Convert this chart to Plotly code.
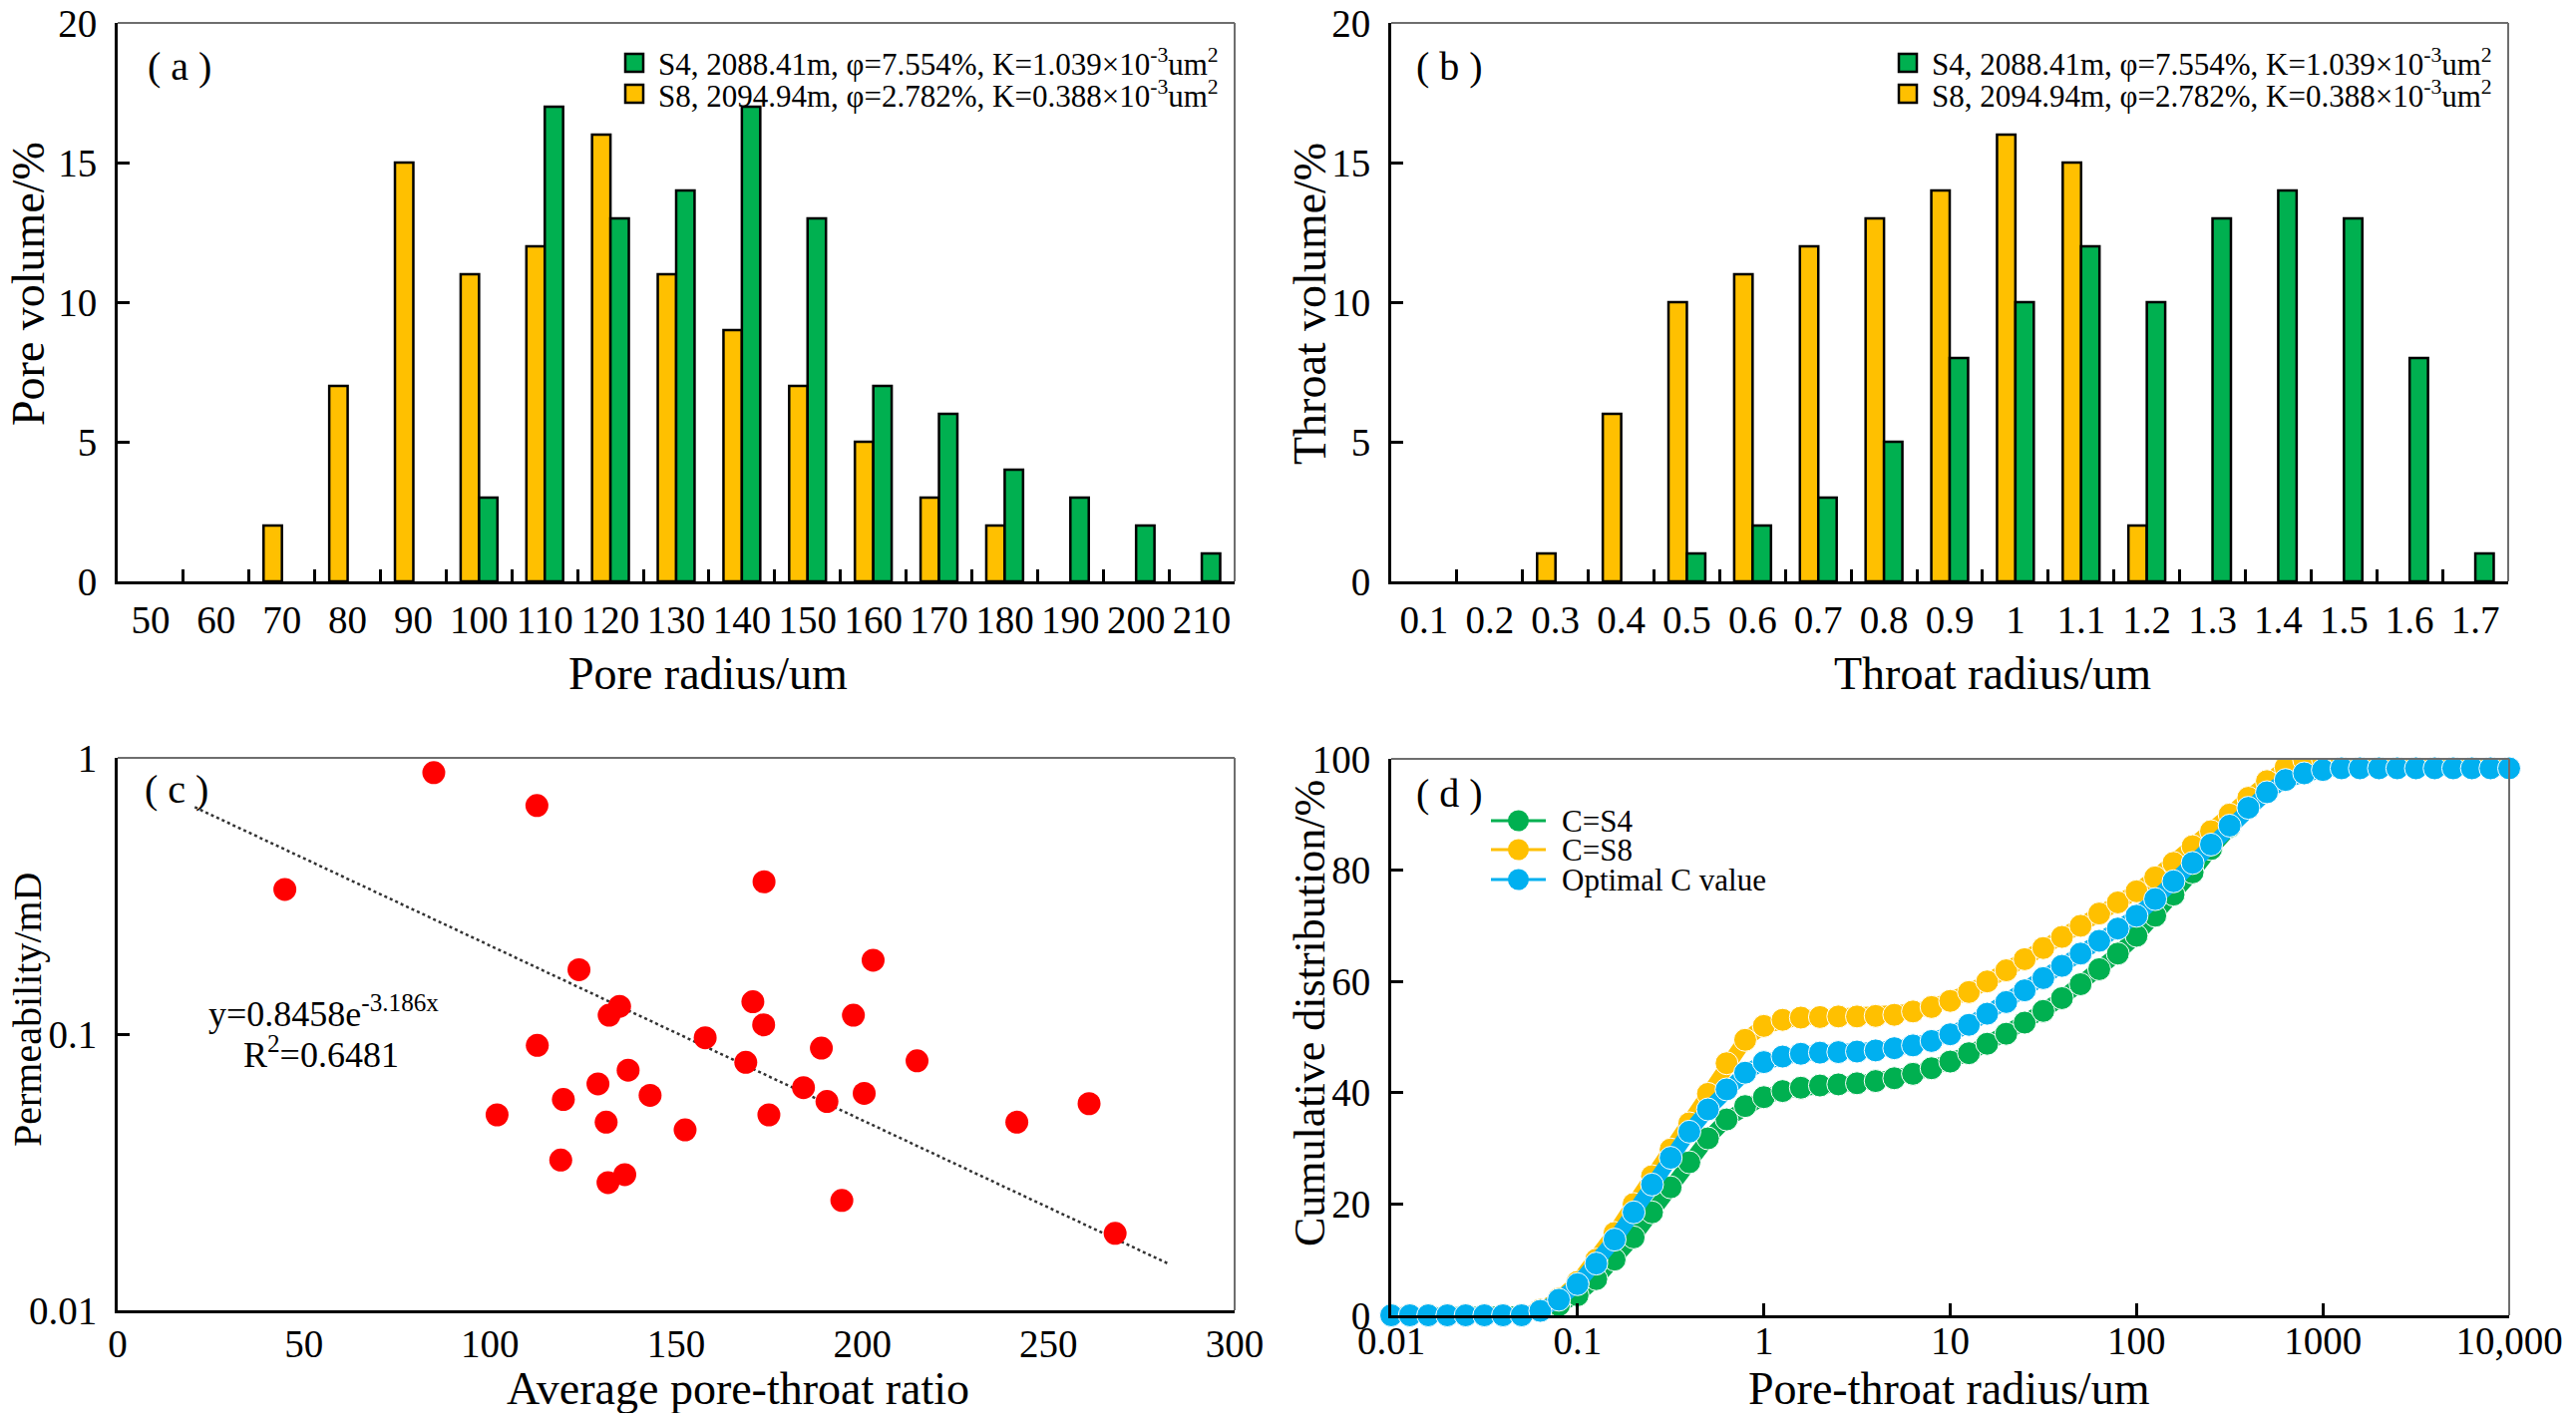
import plotly.graph_objects as go

# ---------------- data ----------------
pore_radius = ["50", "60", "70", "80", "90", "100", "110", "120", "130", "140",
               "150", "160", "170", "180", "190", "200", "210"]
pore_s4 = [0, 0, 0, 0, 0, 3, 17, 13, 14, 17, 13, 7, 6, 4, 3, 2, 1]
pore_s8 = [0, 0, 2, 7, 15, 11, 12, 16, 11, 9, 7, 5, 3, 2, 0, 0, 0]

throat_radius = ["0.1", "0.2", "0.3", "0.4", "0.5", "0.6", "0.7", "0.8", "0.9", "1",
                 "1.1", "1.2", "1.3", "1.4", "1.5", "1.6", "1.7"]
throat_s4 = [0, 0, 0, 0, 1, 2, 3, 5, 8, 10, 12, 10, 13, 14, 13, 8, 1]
throat_s8 = [0, 0, 1, 6, 10, 11, 12, 13, 14, 16, 15, 2, 0, 0, 0, 0, 0]

ratio = [44.9, 84.9, 112.6, 173.6, 202.9, 123.9, 134.8, 132.0, 170.6, 173.5, 197.6,
         112.7, 157.8, 189.0, 168.7, 214.7, 137.1, 129.0, 184.2, 200.5, 143.0, 119.7,
         190.5, 101.9, 174.9, 131.2, 152.4, 119.0, 136.2, 131.7, 194.5, 260.9, 241.5, 267.9]
perm = [0.334, 0.884, 0.672, 0.356, 0.185, 0.171, 0.126, 0.117, 0.131, 0.108, 0.117,
        0.091, 0.097, 0.089, 0.079, 0.080, 0.074, 0.066, 0.064, 0.061, 0.060, 0.058,
        0.057, 0.051, 0.051, 0.048, 0.045, 0.035, 0.031, 0.029, 0.025, 0.056, 0.048, 0.019]
trend_x = [20.7, 282.4]
trend_y = [0.663, 0.0147]

pt_radius = [0.01, 0.0126, 0.0158, 0.02, 0.0251, 0.0316, 0.0398, 0.0501, 0.0631, 0.0794,
             0.1, 0.126, 0.158, 0.2, 0.251, 0.316, 0.398, 0.501, 0.631, 0.794,
             1, 1.26, 1.58, 2, 2.51, 3.16, 3.98, 5.01, 6.31, 7.94,
             10, 12.6, 15.8, 20, 25.1, 31.6, 39.8, 50.1, 63.1, 79.4,
             100, 126, 158, 200, 251, 316, 398, 501, 631, 794,
             1000, 1260, 1580, 2000, 2510, 3160, 3980, 5010, 6310, 7940, 10000]
cum_s8 = [0, 0, 0, 0, 0, 0, 0, 0,
          1, 3, 6, 10, 14.8, 20, 25, 29.8, 34.5, 39.8, 45.3, 49.5, 52,
          53.1, 53.5, 53.6, 53.7, 53.7, 53.8, 54.0, 54.6, 55.4, 56.5,
          58.1, 60, 62, 64, 66, 68, 70, 72.2, 74.2, 76.2,
          78.7, 81.3, 84.3, 87, 90, 93, 96, 98.5, 99.8, 100,
          100, 100, 100, 100, 100, 100, 100, 100, 100, 100]
cum_opt = [0, 0, 0, 0, 0, 0, 0, 0,
           0.8, 2.8, 5.6, 9.3, 13.6, 18.5, 23.5, 28.3, 33, 37, 40.6, 43.6, 45.5,
           46.5, 47, 47.2, 47.3, 47.4, 47.6, 48, 48.5, 49.3, 50.5,
           52.2, 54.2, 56.3, 58.4, 60.6, 62.8, 65, 67.3, 69.5, 71.8,
           74.8, 78, 81.3, 84.6, 88, 91.2, 94, 96.2, 97.4, 98,
           98.3, 98.3, 98.3, 98.3, 98.3, 98.3, 98.3, 98.3, 98.3, 98.3]
cum_s4 = [0, 0, 0, 0, 0, 0, 0, 0,
          0.3, 1.8, 3.6, 6.5, 10, 14, 18.5, 23, 27.5, 31.8, 35.2, 37.6, 39.2,
          40.3, 40.9, 41.3, 41.5, 41.7, 42.1, 42.6, 43.4, 44.4, 45.6,
          47.1, 48.8, 50.6, 52.6, 54.7, 57, 59.5, 62.2, 65, 68.2,
          71.8, 75.6, 79.6, 83.8, 87.8, 91.5, 94.8, 97.3, 99, 99.8,
          100, 100, 100, 100, 100, 100, 100, 100, 100, 100]

s4_label = "S4, 2088.41m, φ=7.554%, K=1.039×10<sup>-3</sup>um<sup>2</sup>"
s8_label = "S8, 2094.94m, φ=2.782%, K=0.388×10<sup>-3</sup>um<sup>2</sup>"
curve_labels = ["C=S4", "C=S8", "Optimal C value"]

# ---------------- styling / layout helpers ----------------
GREEN = "#00B050"
YELLOW = "#FFC000"
BLUE = "#00B0F0"
RED = "#FF0000"
FONT = "Liberation Serif"

W, H = 2567, 1409
OFF = 8


def fx(x):
    return (x - OFF) / W


def fy(y):
    return 1 - (y - OFF) / H


# panel boxes in page pixels: (left, right, top, bottom)
A = (118, 1238, 23, 583)
B = (1395, 2515, 23, 583)
C = (118, 1238, 760, 1314)
D = (1395, 2516, 761, 1319)


def dom(box):
    return [fx(box[0]), fx(box[1])], [fy(box[3]), fy(box[2])]


def nz(v):
    return [a if a > 0 else None for a in v]


TICKF = dict(family=FONT, size=39, color="black")

fig = go.Figure()

# (a)
fig.add_trace(go.Bar(x=pore_radius, y=nz(pore_s8), name="S8", marker=dict(color=YELLOW, line=dict(color="black", width=2.5)),
                     xaxis="x", yaxis="y", showlegend=False))
fig.add_trace(go.Bar(x=pore_radius, y=nz(pore_s4), name="S4", marker=dict(color=GREEN, line=dict(color="black", width=2.5)),
                     xaxis="x", yaxis="y", showlegend=False))
# (b)
fig.add_trace(go.Bar(x=throat_radius, y=nz(throat_s8), name="S8", marker=dict(color=YELLOW, line=dict(color="black", width=2.5)),
                     xaxis="x2", yaxis="y2", showlegend=False))
fig.add_trace(go.Bar(x=throat_radius, y=nz(throat_s4), name="S4", marker=dict(color=GREEN, line=dict(color="black", width=2.5)),
                     xaxis="x2", yaxis="y2", showlegend=False))
# (c)
fig.add_trace(go.Scatter(x=trend_x, y=trend_y, mode="lines", line=dict(color="#333333", width=2.5, dash="dot"),
                         xaxis="x3", yaxis="y3", showlegend=False))
fig.add_trace(go.Scatter(x=ratio, y=perm, mode="markers", marker=dict(color=RED, size=23),
                         xaxis="x3", yaxis="y3", showlegend=False))
# (d)
curve_colors = [GREEN, YELLOW, BLUE]
curve_clip = [True, True, False]
for yv, col, nm, clip in zip([cum_s4, cum_s8, cum_opt], curve_colors, curve_labels, curve_clip):
    fig.add_trace(go.Scatter(x=pt_radius, y=yv, mode="lines+markers", name=nm,
                             line=dict(color=col, width=15),
                             marker=dict(color=col, size=23, line=dict(color="white", width=1)),
                             cliponaxis=clip, xaxis="x4", yaxis="y4", showlegend=False))

axis_common = dict(showline=True, linecolor="black", linewidth=3, mirror=False, showgrid=False,
                   zeroline=False, ticks="inside", ticklen=12, tickwidth=3, tickcolor="black",
                   tickfont=TICKF, automargin=False, tickangle=0)

dxa, dya = dom(A)
dxb, dyb = dom(B)
dxc, dyc = dom(C)
dxd, dyd = dom(D)

layout = dict(
    width=W, height=H, margin=dict(l=0, r=0, t=0, b=0, autoexpand=False),
    paper_bgcolor="white", plot_bgcolor="white",
    font=dict(family=FONT, color="black"),
    barmode="group", bargap=0.44, bargroupgap=0, showlegend=False,
    xaxis=dict(axis_common, domain=dxa, anchor="y", type="category", tickson="boundaries", ticklabelstandoff=2),
    yaxis=dict(axis_common, domain=dya, anchor="x", range=[0, 20], tickvals=[0, 5, 10, 15, 20], ticklabelstandoff=10),
    xaxis2=dict(axis_common, domain=dxb, anchor="y2", type="category", tickson="boundaries", ticklabelstandoff=2),
    yaxis2=dict(axis_common, domain=dyb, anchor="x2", range=[0, 20], tickvals=[0, 5, 10, 15, 20], ticklabelstandoff=10),
    xaxis3=dict(axis_common, domain=dxc, anchor="y3", range=[0, 300], tickvals=[0, 50, 100, 150, 200, 250, 300],
                ticks="", ticklabelstandoff=-3),
    yaxis3=dict(axis_common, domain=dyc, anchor="x3", type="log", range=[-2, 0], tickvals=[0.01, 0.1, 1],
                ticktext=["0.01", "0.1", "1"], ticklabelstandoff=10),
    xaxis4=dict(axis_common, domain=dxd, anchor="y4", type="log", range=[-2, 4],
                tickvals=[0.01, 0.1, 1, 10, 100, 1000, 10000],
                ticktext=["0.01", "0.1", "1", "10", "100", "1000", "10,000"], ticklabelstandoff=-11),
    yaxis4=dict(axis_common, domain=dyd, anchor="x4", range=[0, 100], tickvals=[0, 20, 40, 60, 80, 100],
                ticklabelstandoff=10),
)
fig.update_layout(**layout)

shapes = []
# top / right frame lines (thin grey)
for xa, ya in [("x", "y"), ("x2", "y2"), ("x3", "y3"), ("x4", "y4")]:
    shapes.append(dict(type="line", xref=f"{xa} domain", yref=f"{ya} domain", x0=0, x1=1, y0=1, y1=1,
                       line=dict(color="#6e6e6e", width=2)))
    shapes.append(dict(type="line", xref=f"{xa} domain", yref=f"{ya} domain", x0=1, x1=1, y0=0, y1=1,
                       line=dict(color="#6e6e6e", width=2)))

ann = []


def text(x, y, s, size, angle=0, anchor="center"):
    ann.append(dict(x=fx(x), y=fy(y), xref="paper", yref="paper", text=s, showarrow=False,
                    textangle=angle, xanchor=anchor, yanchor="middle",
                    font=dict(family=FONT, size=size, color="black")))


# legends of (a) and (b): swatch + text
for x_sw in (636, 1913):
    for yrow, col, lab in [(63, GREEN, s4_label), (94, YELLOW, s8_label)]:
        shapes.append(dict(type="rect", xref="paper", yref="paper",
                           x0=fx(x_sw - 9), x1=fx(x_sw + 9), y0=fy(yrow + 9), y1=fy(yrow - 9),
                           fillcolor=col, line=dict(color="black", width=2.5)))
        text(x_sw + 22, yrow, lab, 31, anchor="left")

# legend of (d): line + marker + text
for yrow, col, lab in zip([823, 852, 882], curve_colors, curve_labels):
    shapes.append(dict(type="line", xref="paper", yref="paper", x0=fx(1495), x1=fx(1550), y0=fy(yrow), y1=fy(yrow),
                       line=dict(color=col, width=3)))
    shapes.append(dict(type="circle", xref="paper", yref="paper", x0=fx(1512), x1=fx(1533),
                       y0=fy(yrow + 10.5), y1=fy(yrow - 10.5), fillcolor=col, line=dict(width=0)))
    text(1564, yrow, lab, 31, anchor="left")

fig.update_layout(shapes=shapes)

text(146, 66, "( a )", 40, anchor="left")
text(1418, 66, "( b )", 40, anchor="left")
text(143, 791, "( c )", 40, anchor="left")
text(1418, 795, "( d )", 40, anchor="left")

text(710, 675, "Pore radius/um", 46)
text(1998, 675, "Throat radius/um", 46)
text(740, 1392, "Average pore-throat ratio", 46)
text(1955, 1392, "Pore-throat radius/um", 46)

text(28, 285, "Pore volume/%", 46, angle=-90)
text(1313, 305, "Throat volume/%", 46, angle=-90)
text(28, 1012, "Permeability/mD", 40, angle=-90)
text(1313, 1016, "Cumulative distribution/%", 44, angle=-90)

text(207, 1014, "y=0.8458e<sup>-3.186x</sup>", 36, anchor="left")
text(242, 1055, "R<sup>2</sup>=0.6481", 36, anchor="left")

fig.update_layout(annotations=ann)

fig.write_html("out.html")
